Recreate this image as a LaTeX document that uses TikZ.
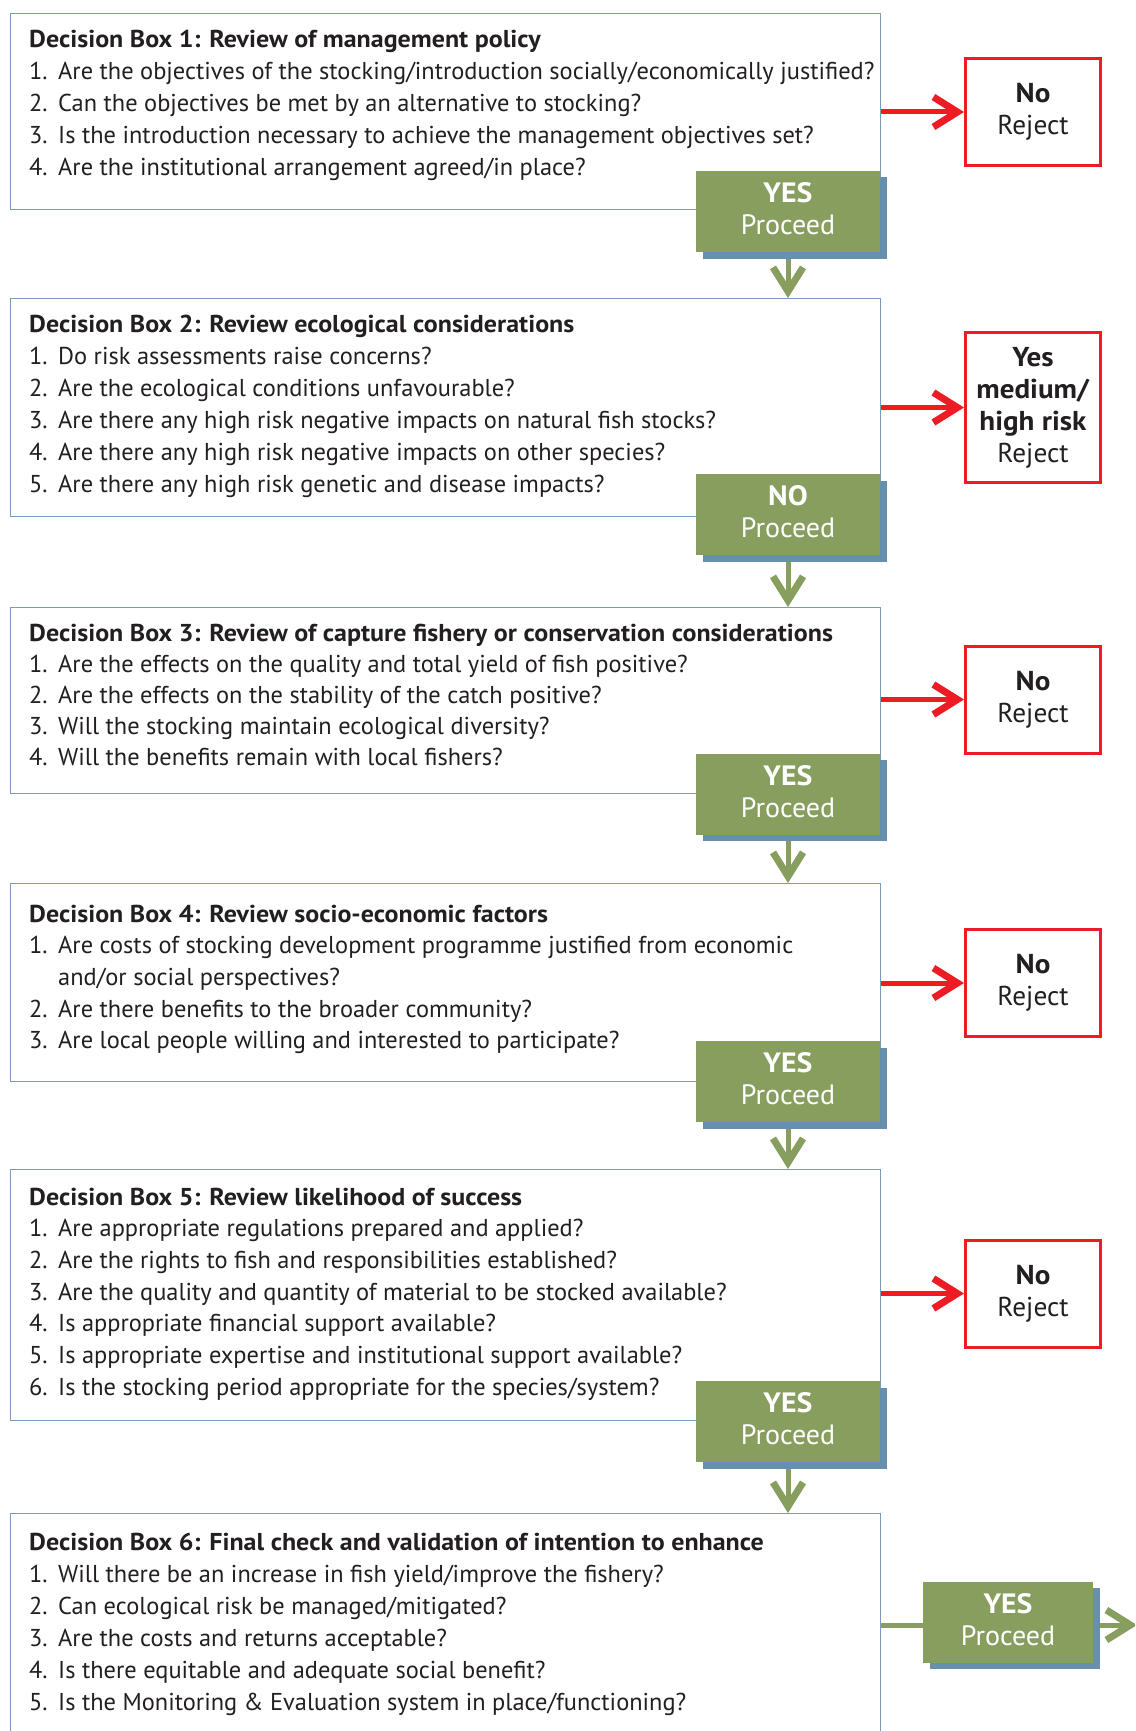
\documentclass[tikz,border=0pt]{standalone}
\usepackage{fontspec}
\setmainfont{PT Sans}[BoldFeatures={FakeStretch=1.065}]
\usetikzlibrary{arrows.meta,shadows}
\definecolor{ink}{HTML}{231F20}
\definecolor{boxline}{HTML}{7A9BBB}
\definecolor{go}{HTML}{879E5F}
\definecolor{goshadow}{HTML}{6690AE}
\definecolor{stop}{HTML}{ED1C24}
\newcommand\itm[1]{\makebox[29pt][l]{#1}}
\begin{document}
\begin{tikzpicture}[x=1pt,y=-1pt,
  dbox/.style={draw=boxline, line width=1.3pt, fill=white, minimum width=870pt, anchor=north west, inner sep=0},
  qtext/.style={anchor=base west, inner sep=0, text=ink, font=\fontsize{24.4}{32}\selectfont},
  rejectbox/.style={draw=stop, line width=3pt, fill=white, text=ink, minimum width=135pt, minimum height=107pt, align=center, font=\fontsize{27.3}{32}\selectfont, inner sep=0},
  gobox/.style={fill=go, minimum width=184pt, minimum height=81pt, inner sep=0, general shadow={fill=goshadow, shadow xshift=6.5pt, shadow yshift=-6.5pt}},
  gotext/.style={text=white, align=center, inner sep=0, yshift=2.5pt, font=\fontsize{28}{32}\selectfont},
  noarrow/.style={draw=stop, line width=5pt, -{Straight Barb[length=24pt,width=30pt,line width=7pt]}},
  yesarrow/.style={draw=go, line width=5pt, -{Straight Barb[length=24pt,width=30pt,line width=7pt]}},
  yesline/.style={draw=go, line width=5pt},
]
\useasboundingbox (0,0) rectangle (1135,1731);
\clip (0,0) rectangle (1135,1731);
\fill[white] (0,0) rectangle (1135,1731);

% decision boxes
\node[dbox, minimum height=196pt] (d1) at (10,13) {};
\node[dbox, minimum height=218pt] (d2) at (10,298) {};
\node[dbox, minimum height=186pt] (d3) at (10,607) {};
\node[dbox, minimum height=198pt] (d4) at (10,883) {};
\node[dbox, minimum height=251pt] (d5) at (10,1169) {};
\node[dbox, minimum height=260pt] (d6) at (10,1513) {};

% questions
\node[qtext] (q1) at (29,48) {\begin{tabular}[t]{@{}l@{}}
\textbf{Decision Box 1: Review of management policy}\\
\itm{1.}Are the objectives of the stocking/introduction socially/economically justified?\\
\itm{2.}Can the objectives be met by an alternative to stocking?\\
\itm{3.}Is the introduction necessary to achieve the management objectives set?\\
\itm{4.}Are the institutional arrangement agreed/in place?
\end{tabular}};
\node[qtext] (q2) at (29,332) {\begin{tabular}[t]{@{}l@{}}
\textbf{Decision Box 2: Review ecological considerations}\\
\itm{1.}Do risk assessments raise concerns?\\
\itm{2.}Are the ecological conditions unfavourable?\\
\itm{3.}Are there any high risk negative impacts on natural fish stocks?\\
\itm{4.}Are there any high risk negative impacts on other species?\\
\itm{5.}Are there any high risk genetic and disease impacts?
\end{tabular}};
\node[qtext, font=\fontsize{24.4}{31}\selectfont] (q3) at (29,641) {\begin{tabular}[t]{@{}l@{}}
\textbf{Decision Box 3: Review of capture fishery or conservation considerations}\\
\itm{1.}Are the effects on the quality and total yield of fish positive?\\
\itm{2.}Are the effects on the stability of the catch positive?\\
\itm{3.}Will the stocking maintain ecological diversity?\\
\itm{4.}Will the benefits remain with local fishers?
\end{tabular}};
\node[qtext, font=\fontsize{24.4}{31.7}\selectfont] (q4) at (29,922) {\begin{tabular}[t]{@{}l@{}}
\textbf{Decision Box 4: Review socio-economic factors}\\
\itm{1.}Are costs of stocking development programme justified from economic\\
\itm{}and/or social perspectives?\\
\itm{2.}Are there benefits to the broader community?\\
\itm{3.}Are local people willing and interested to participate?
\end{tabular}};
\node[qtext, font=\fontsize{24.4}{31.7}\selectfont] (q5) at (29,1205) {\begin{tabular}[t]{@{}l@{}}
\textbf{Decision Box 5: Review likelihood of success}\\
\itm{1.}Are appropriate regulations prepared and applied?\\
\itm{2.}Are the rights to fish and responsibilities established?\\
\itm{3.}Are the quality and quantity of material to be stocked available?\\
\itm{4.}Is appropriate financial support available?\\
\itm{5.}Is appropriate expertise and institutional support available?\\
\itm{6.}Is the stocking period appropriate for the species/system?
\end{tabular}};
\node[qtext] (q6) at (29,1550) {\begin{tabular}[t]{@{}l@{}}
\textbf{Decision Box 6: Final check and validation of intention to enhance}\\
\itm{1.}Will there be an increase in fish yield/improve the fishery?\\
\itm{2.}Can ecological risk be managed/mitigated?\\
\itm{3.}Are the costs and returns acceptable?\\
\itm{4.}Is there equitable and adequate social benefit?\\
\itm{5.}Is the Monitoring \& Evaluation system in place/functioning?
\end{tabular}};

% proceed boxes
\node[gobox, label={[gotext]center:{\textbf{YES}\\Proceed}}] (g1) at (788,211.5) {};
\node[gobox, label={[gotext]center:{\textbf{NO}\\Proceed}}] (g2) at (788,514.5) {};
\node[gobox, label={[gotext]center:{\textbf{YES}\\Proceed}}] (g3) at (788,794) {};
\node[gobox, label={[gotext]center:{\textbf{YES}\\Proceed}}] (g4) at (788,1081.5) {};
\node[gobox, label={[gotext]center:{\textbf{YES}\\Proceed}}] (g5) at (788,1421.5) {};
\node[gobox, minimum width=170pt, label={[gotext]center:{\textbf{YES}\\Proceed}}] (g6) at (1008,1622) {};

% reject boxes
\node[rejectbox] (r1) at (1033,112) {\textbf{No}\\Reject};
\node[rejectbox, minimum height=150pt] (r2) at (1033,407.5) {\textbf{Yes}\\\textbf{medium/}\\\textbf{high risk}\\Reject};
\node[rejectbox] (r3) at (1033,699.5) {\textbf{No}\\Reject};
\node[rejectbox] (r4) at (1033,983) {\textbf{No}\\Reject};
\node[rejectbox] (r5) at (1033,1293.5) {\textbf{No}\\Reject};

% reject connectors
\foreach \i in {1,...,5}
  \draw[noarrow] (d\i.east |- r\i.west) -- (r\i.west);

% proceed connectors
\foreach \i [evaluate=\i as \j using int(\i+1)] in {1,...,5}
  \draw[yesarrow] ([yshift=-6.5pt]g\i.south) -- (g\i.south |- d\j.north);
\coordinate (exit) at (1137,1625);
\draw[yesline] (d6.north east |- exit) -- (g6.west |- exit);
\draw[yesarrow] ([xshift=6.5pt]g6.east |- exit) -- (exit);
\end{tikzpicture}
\end{document}
